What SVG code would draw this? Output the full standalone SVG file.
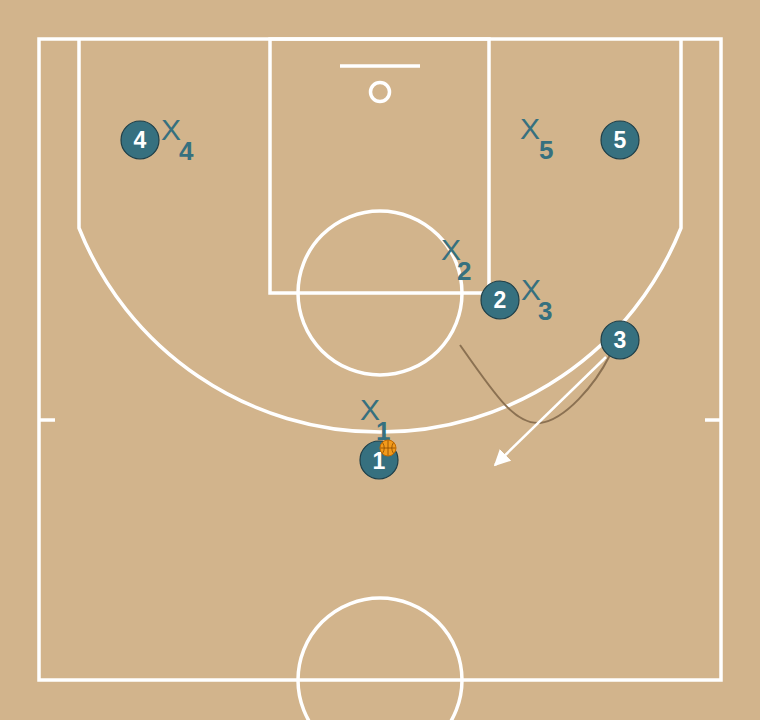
<svg xmlns="http://www.w3.org/2000/svg" width="760" height="720" viewBox="0 0 760 720">
<defs>
<style>
.court{fill:none;stroke:#ffffff;stroke-width:3.5}
.pl circle{fill:#36707f;stroke:#1f3f48;stroke-width:1.2}
.pl text{fill:#ffffff;font-family:"Liberation Sans",Arial,sans-serif;font-weight:bold;font-size:23px;text-anchor:middle}
.df text{fill:#36707f;font-family:"Liberation Sans",Arial,sans-serif;font-size:30px}
.df .sub{font-size:26px;font-weight:bold}
</style>
<marker id="ah" viewBox="0 0 10 10" refX="9" refY="5" markerWidth="6.5" markerHeight="6.5" orient="auto" markerUnits="strokeWidth">
<path d="M0,0 L10,5 L0,10 z" fill="#ffffff"/>
</marker>
</defs>
<rect x="0" y="0" width="760" height="720" fill="#d2b48c"/>
<g id="court">
<rect class="court" x="39" y="39" width="682" height="641"/>
<rect class="court" x="270" y="39" width="219" height="254"/>
<circle class="court" cx="380" cy="293" r="82"/>
<line class="court" x1="340" y1="66" x2="420" y2="66" stroke-width="2"/>
<circle class="court" cx="380" cy="92" r="9.5"/>
<path class="court" d="M79,39 L79,228 A324,324 0 0 0 681,228 L681,39"/>
<circle class="court" cx="380" cy="680" r="82"/>
<line class="court" x1="39" y1="420" x2="55" y2="420"/>
<line class="court" x1="705" y1="420" x2="721" y2="420"/>
</g>
<g id="connectors">
<path d="M460,345 C495,395 515,425 540,423 C565,420 595,385 610,355" fill="none" stroke="#8b7152" stroke-width="2"/>
<line x1="604" y1="360" x2="538" y2="423" stroke="#efe3cf" stroke-width="1.5"/>
<line x1="606" y1="357" x2="495" y2="465" stroke="#ffffff" stroke-width="2.5" marker-end="url(#ah)"/>
</g>
<g id="defenders" class="df">
<g id="x4"><text x="161" y="140">X</text><text class="sub" x="179" y="160">4</text></g>
<g id="x5"><text x="520" y="139">X</text><text class="sub" x="539" y="159">5</text></g>
<g id="x2"><text x="441" y="260">X</text><text class="sub" x="457" y="280">2</text></g>
<g id="x3"><text x="521" y="300">X</text><text class="sub" x="538" y="320">3</text></g>
<g id="x1"><text x="360" y="420">X</text><text class="sub" x="376" y="440">1</text></g>
</g>
<g id="p4" class="pl"><circle cx="140" cy="140" r="19"/><text x="140" y="148">4</text></g>
<g id="p5" class="pl"><circle cx="620" cy="140" r="19"/><text x="620" y="148">5</text></g>
<g id="p2" class="pl"><circle cx="500" cy="300" r="19"/><text x="500" y="308">2</text></g>
<g id="p3" class="pl"><circle cx="620" cy="340" r="19"/><text x="620" y="348">3</text></g>
<g id="p1" class="pl"><circle cx="379" cy="460" r="19"/><text x="379" y="469">1</text></g>
<g id="ball">
<circle cx="388" cy="448" r="8" fill="#f29a1b" stroke="#c46a00" stroke-width="1"/>
<path d="M380.5,448 H395.5 M388,440.5 V455.5 M382.5,442.5 Q386,448 382.5,453.5 M393.5,442.5 Q390,448 393.5,453.5" fill="none" stroke="#8a4a00" stroke-width="0.8"/>
</g>
</svg>
